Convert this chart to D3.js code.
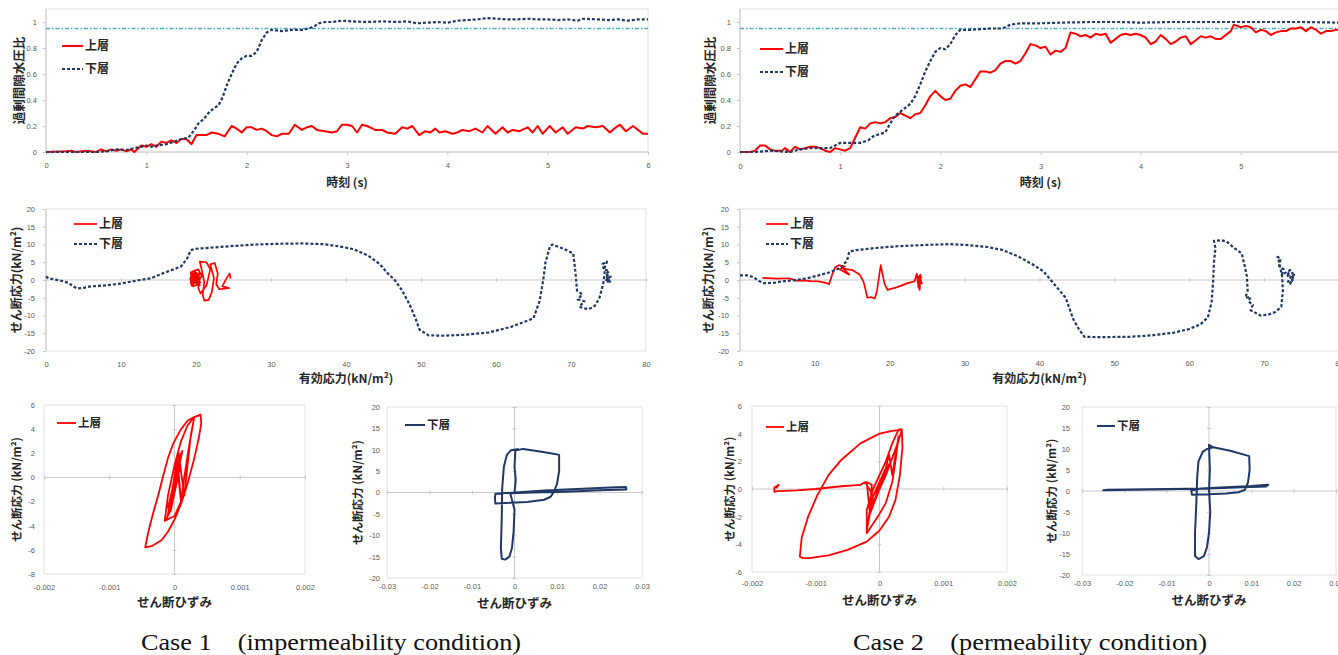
<!DOCTYPE html>
<html>
<head>
<meta charset="utf-8">
<script src="https://cdn.jsdelivr.net/npm/d3@7"></script>
<style>
  body { margin: 0; background: #fff; }
  svg text { font-family: "Liberation Sans", Arial, sans-serif; }
  .jp { font-family: "Noto Sans CJK JP", sans-serif; font-weight: bold; fill: #262626; }
  .lab text { fill: #595959; font-size: 7.5px; }
  .caption { font-family: "Liberation Serif", "Times New Roman", serif; font-size: 24px; fill: #111; }
</style>
</head>
<body>
<div id="chart"></div>
<script>
// ---- data ----
// excess pore water pressure ratio vs time (s)
var c1UpperRatio = [[0,0],[0.2,0.005],[0.25,0.01],[0.3,0],[0.4,0.01],[0.5,0],[0.55,0.02],[0.6,0.005],[0.65,0.02],[0.7,0.01],[0.75,0.02],[0.8,0.005],[0.85,0.02],[0.88,0],[0.95,0.05],[1.0,0.04],[1.05,0.06],[1.1,0.04],[1.15,0.08],[1.2,0.07],[1.25,0.09],[1.3,0.07],[1.35,0.1],[1.4,0.1],[1.45,0.06],[1.5,0.13],[1.55,0.13],[1.6,0.13],[1.65,0.15],[1.72,0.14],[1.78,0.12],[1.85,0.2],[1.9,0.18],[1.95,0.15],[2.0,0.19],[2.05,0.19],[2.1,0.17],[2.15,0.18],[2.2,0.16],[2.25,0.13],[2.3,0.12],[2.35,0.14],[2.42,0.14],[2.48,0.21],[2.55,0.17],[2.6,0.19],[2.65,0.2],[2.7,0.17],[2.78,0.16],[2.85,0.15],[2.9,0.16],[2.95,0.21],[3.0,0.21],[3.05,0.2],[3.1,0.15],[3.15,0.21],[3.2,0.2],[3.28,0.17],[3.35,0.17],[3.4,0.15],[3.48,0.14],[3.55,0.19],[3.6,0.18],[3.65,0.2],[3.72,0.13],[3.78,0.16],[3.83,0.15],[3.88,0.18],[3.92,0.15],[3.98,0.16],[4.05,0.14],[4.1,0.15],[4.15,0.17],[4.22,0.16],[4.28,0.18],[4.35,0.15],[4.4,0.2],[4.48,0.14],[4.55,0.19],[4.6,0.15],[4.65,0.17],[4.72,0.16],[4.8,0.19],[4.85,0.15],[4.9,0.2],[4.95,0.14],[5.02,0.2],[5.08,0.15],[5.15,0.19],[5.2,0.14],[5.28,0.19],[5.35,0.18],[5.4,0.2],[5.48,0.19],[5.55,0.2],[5.62,0.15],[5.68,0.19],[5.72,0.21],[5.78,0.16],[5.85,0.2],[5.9,0.17],[5.95,0.14],[6.0,0.14]];
var c1LowerRatio = [[0,0],[0.5,0],[0.6,0.005],[0.7,0.02],[0.8,0.015],[0.88,0.03],[0.95,0.04],[1.0,0.05],[1.05,0.04],[1.1,0.05],[1.2,0.06],[1.28,0.08],[1.35,0.1],[1.42,0.11],[1.47,0.16],[1.52,0.22],[1.58,0.26],[1.63,0.31],[1.68,0.34],[1.72,0.36],[1.76,0.42],[1.8,0.51],[1.85,0.6],[1.9,0.68],[1.95,0.72],[2.0,0.74],[2.05,0.74],[2.1,0.77],[2.15,0.86],[2.2,0.92],[2.25,0.94],[2.35,0.93],[2.45,0.94],[2.55,0.94],[2.62,0.95],[2.68,0.97],[2.72,0.99],[2.78,1.0],[2.85,1.0],[2.95,1.01],[3.05,1.005],[3.2,1.0],[3.35,1.005],[3.5,1.0],[3.6,1.005],[3.7,0.99],[3.8,0.995],[3.9,1.0],[4.0,0.995],[4.1,1.01],[4.2,1.015],[4.3,1.02],[4.4,1.03],[4.5,1.025],[4.6,1.02],[4.7,1.02],[4.8,1.025],[4.9,1.02],[5.0,1.02],[5.1,1.015],[5.2,1.02],[5.3,1.01],[5.35,1.025],[5.5,1.02],[5.6,1.015],[5.7,1.02],[5.8,1.01],[5.9,1.02],[6.0,1.02]];
var c2UpperRatio = [[0,0],[0.1,0],[0.15,0.01],[0.2,0.05],[0.25,0.05],[0.3,0.02],[0.35,0.01],[0.42,0.01],[0.45,0.03],[0.5,0.0],[0.55,0.04],[0.6,0.02],[0.65,0.03],[0.7,0.04],[0.75,0.04],[0.8,0.03],[0.85,0.01],[0.9,0.0],[0.95,0.03],[1.0,0.02],[1.05,0.01],[1.1,0.03],[1.15,0.11],[1.2,0.19],[1.25,0.18],[1.3,0.22],[1.35,0.23],[1.4,0.22],[1.45,0.23],[1.5,0.26],[1.55,0.27],[1.6,0.3],[1.65,0.28],[1.7,0.26],[1.75,0.29],[1.8,0.3],[1.85,0.36],[1.9,0.43],[1.95,0.47],[2.0,0.43],[2.05,0.4],[2.1,0.41],[2.15,0.47],[2.2,0.51],[2.25,0.52],[2.3,0.5],[2.35,0.56],[2.4,0.62],[2.45,0.62],[2.5,0.61],[2.55,0.63],[2.6,0.68],[2.65,0.7],[2.7,0.7],[2.75,0.68],[2.8,0.7],[2.85,0.76],[2.9,0.83],[2.95,0.82],[3.0,0.8],[3.05,0.81],[3.1,0.75],[3.15,0.78],[3.2,0.77],[3.25,0.8],[3.3,0.92],[3.35,0.91],[3.4,0.89],[3.45,0.9],[3.5,0.88],[3.55,0.91],[3.6,0.9],[3.65,0.91],[3.7,0.84],[3.75,0.87],[3.8,0.9],[3.85,0.91],[3.9,0.9],[3.95,0.91],[4.0,0.9],[4.05,0.88],[4.1,0.83],[4.15,0.85],[4.2,0.9],[4.25,0.87],[4.3,0.83],[4.35,0.85],[4.4,0.88],[4.45,0.89],[4.5,0.83],[4.55,0.86],[4.6,0.89],[4.65,0.88],[4.7,0.89],[4.75,0.87],[4.8,0.87],[4.85,0.9],[4.9,0.93],[4.93,0.98],[5.0,0.96],[5.05,0.97],[5.1,0.96],[5.15,0.92],[5.2,0.94],[5.25,0.93],[5.3,0.9],[5.35,0.92],[5.4,0.93],[5.45,0.93],[5.5,0.95],[5.55,0.95],[5.6,0.96],[5.65,0.93],[5.7,0.96],[5.75,0.94],[5.8,0.91],[5.85,0.93],[5.9,0.93],[5.95,0.94],[6.0,0.94]];
var c2LowerRatio = [[0,0],[0.15,0],[0.3,0.01],[0.5,0.0],[0.6,0.02],[0.7,0.03],[0.8,0.03],[0.9,0.03],[0.95,0.05],[1.0,0.07],[1.1,0.07],[1.2,0.07],[1.28,0.09],[1.33,0.12],[1.4,0.14],[1.45,0.15],[1.5,0.22],[1.55,0.28],[1.6,0.31],[1.65,0.34],[1.7,0.37],[1.75,0.43],[1.8,0.52],[1.85,0.62],[1.9,0.7],[1.95,0.77],[2.0,0.8],[2.05,0.79],[2.1,0.83],[2.15,0.9],[2.2,0.94],[2.3,0.94],[2.4,0.945],[2.5,0.95],[2.6,0.95],[2.65,0.96],[2.7,0.98],[2.8,0.99],[2.9,0.99],[3.0,0.99],[3.2,0.995],[3.5,1.0],[3.8,1.0],[4.0,0.995],[4.3,1.0],[4.6,1.0],[5.0,1.0],[5.3,1.0],[5.6,1.0],[6.0,0.995]];
var liquefactionRatio = 0.95;

// effective stress path: [effective stress, shear stress] (kN/m2)
var c1UpperPath = [[24.6,0.4],[24.5,1.8],[24.1,0.6],[23.5,-1.8],[24.4,-2.3],[23.1,-2.6],[22.7,-1.2],[22.9,1.8],[22.5,4.8],[21.9,4.4],[22.4,0.5],[22.1,-3.5],[21.7,-5.6],[21.1,-5.8],[20.9,-4.2],[21.1,-0.5],[20.7,3.5],[20.5,5.2],[21.4,5],[21.9,3],[21.4,-1.5],[20.6,-3.8],[20.3,-2.2],[20.5,0.3],[19.7,1.5],[19.4,-0.8],[19.5,2.4],[20.3,3],[20.8,1],[19.3,-0.4],[19.4,1.2],[20.2,-1.3],[19.6,-1.8],[19.4,0.2],[20.5,1.6],[19.2,0.4],[20.1,2.1],[19.7,-1],[19.3,1.8],[20.6,-0.7],[19.5,0.8],[20.3,0],[19.4,-1.2],[20.4,1.2],[19.6,0.2],[19.3,2.2],[20.5,-1.5],[19.8,2.5],[19.4,-1.6],[20.6,0.6],[19.3,1],[20.2,-0.5],[19.5,1.9],[20.4,-1],[19.6,-0.3],[19.9,2.3],[19.3,-0.9],[20.5,2],[19.7,0.6],[20.1,1.5],[19.4,0.5]];
var c1LowerPath = [[0,1],[0.3,0.5],[1,0.2],[2,-0.2],[3,-0.8],[3.8,-2],[4.2,-2.4],[5,-2.2],[6,-1.8],[8,-1.5],[10,-1],[12,-0.2],[14,0.5],[15.5,1.8],[17,3],[18,3.8],[18.8,6],[19.3,8.4],[20,8.8],[22,9.1],[25,9.6],[28,10],[31,10.2],[34,10.3],[37,10.1],[39,9.5],[41,8.7],[43,6.8],[44.5,4.5],[45.5,2],[46.5,0],[47.5,-3],[48.5,-7],[49.3,-11],[49.8,-14],[51,-15.6],[53,-15.7],[56,-15.4],[59,-14.8],[62,-13.2],[65,-10.8],[65.8,-6],[66.3,0],[66.6,5],[67.2,9.5],[67.5,10],[69,8.8],[70.3,7.5],[70.6,2],[70.8,-3],[71.5,-4],[70.9,-5.5],[71.8,-6],[71.1,-7.5],[71.8,-8],[72.3,-8.2],[72.8,-7.8],[73.2,-7.2],[73.8,-5],[74.3,-1],[74.5,2],[74.2,4.5],[74.8,5.2],[74.4,3],[75.1,2.5],[74.6,1.5],[75.3,1],[74.7,0],[75.2,-0.5],[74.8,0.8],[75,-0.8]];
var c2UpperPath = [[3,0.6],[5,0.4],[6.5,0.5],[7,0.2],[7.5,-0.2],[8.5,-0.1],[9.5,-0.3],[10.5,-0.4],[11.5,-0.8],[11.9,-1.2],[12.3,1.5],[12.7,3.5],[13.2,4.2],[14,3.8],[13.3,3],[14.6,1.5],[13.8,3.2],[15,2.8],[16,1.5],[16.5,-0.5],[16.8,-3],[17,-5],[17.5,-4.8],[18,-5.2],[18.3,-3],[18.5,0],[18.8,4.2],[19,2],[19.3,-1],[19.7,-2.8],[21,-2],[22.5,-0.8],[23.3,-0.4],[23.6,1.8],[23.8,-1.5],[24,-2.8],[24.1,1.5],[23.7,0.5],[24.3,-1],[23.9,1],[24.2,-0.3],[23.8,-2],[24.2,0.8],[23.9,-0.8]];
var c2LowerPath = [[0,1.3],[1,1.3],[1.8,0.8],[2.5,-0.3],[3.2,-0.9],[4.5,-0.8],[6,-0.3],[7.5,0],[9,0.5],[10.5,1.3],[12,2.2],[13.5,3.5],[14.3,5.5],[14.6,8],[15.5,8.4],[18,9],[21,9.5],[25,9.9],[28,10.1],[30,9.9],[33,9.3],[35,8.5],[37,6.8],[39,4.5],[40.5,2.5],[41.5,0],[42.5,-2.5],[43.5,-5],[44,-8],[44.5,-11],[45.3,-14],[46,-16],[48,-16.1],[52,-16],[55,-15.6],[58,-14.8],[60,-13.8],[61.5,-12.5],[62.5,-10.5],[63,-6],[63.2,0],[63.3,5],[63.5,9],[63.3,11],[64.3,11.2],[65,10.8],[66,9],[67,7.5],[67.4,4],[67.7,1],[67.8,-3],[67.5,-5],[68.2,-4.8],[67.9,-6],[68.5,-7],[68.2,-8.5],[68.8,-9.2],[69.5,-10],[70.5,-9.8],[71.5,-9],[72.3,-7.5],[72.5,-3],[72.4,1],[72,5],[71.8,6.5],[72.2,6],[72,4],[72.6,3],[72.4,1.5],[73.5,2.8],[73,1],[73.8,2],[73.2,-0.5],[73.8,0],[73.5,-1],[74,1.5],[73.6,0.5]];

// stress-strain loops: [shear strain, shear stress]
var c1UpperLoop = [[0,0],[0.00005,1],[-0.00005,-1.5],[0.0001,2],[-0.0001,-2.5],[0.00008,1.5],[-0.00008,-3],[0.00012,2.2],[-0.00012,-3.5],[0.00005,0.5],[0.0001,-2],[0.00004,1.8],[-0.00006,-2.8],[0.00009,1],[-0.0001,-3.2],[0.00006,2.1],[0.00015,-1.5],[0.0002,1],[0.00025,3.5],[0.0003,4.9],[0.00022,2.5],[0.00015,0],[0.0001,-2],[0,-3.2],[-0.00015,-3.6],[-0.0001,-1.5],[0,1],[0.0001,3],[0.0002,4.3],[0.0003,5],[0.0004,5.2],[0.00041,4.5],[0.00037,3.2],[0.0003,1.5],[0.0002,-0.5],[0.0001,-2.2],[0,-3.5],[-0.0001,-4.5],[-0.0002,-5.2],[-0.00035,-5.7],[-0.00045,-5.8],[-0.0004,-4.5],[-0.00033,-3],[-0.00025,-1.5],[-0.00018,0],[-0.0001,1.6],[-0.00002,2.8],[0.0001,4],[0.0002,4.7],[0.0003,5],[0.00036,5.1],[0.0004,5.2]];
var c1LowerLoop = [[0,0],[0.0003,3],[0,6],[0.0002,9.8],[0.002,10.2],[0.006,9.6],[0.0095,9],[0.0105,8.8],[0.0105,5],[0.01,2],[0.0092,0],[0.0085,-1],[0.007,-1.7],[0.003,-2.2],[-0.001,-2.4],[-0.0045,-2.6],[-0.0046,-1.2],[-0.0045,-0.3],[0,0],[0.008,0.5],[0.016,0.9],[0.024,1.2],[0.0262,1.3],[0.0263,0.7],[0.02,0.5],[0.012,0.2],[0.004,0],[-0.001,-0.2],[0,-4],[-0.0002,-9],[-0.0006,-13],[-0.0012,-15],[-0.0022,-15.7],[-0.003,-15.5],[-0.0032,-13],[-0.003,-6],[-0.0029,1],[-0.0025,6],[-0.0018,8.8],[-0.0008,9.9],[0.001,10.2]];
var c2UpperLoop = [[0,0],[0.0001,1],[-0.0001,-1],[0.00015,1.8],[-0.00015,-1.8],[-0.0002,0.5],[-0.00012,0.3],[-0.00015,-1.5],[-0.0002,-3],[-0.0001,-0.5],[0,0.5],[0.0001,1.5],[0.00015,2.5],[0.0002,1],[0.00025,2.5],[0.0003,3.8],[0.00025,2],[0.0002,0.5],[0.0001,-1],[0,-1.8],[-0.0002,-3.2],[-0.0002,-1.5],[-0.0001,0],[0.0001,2],[0.0002,3.3],[0.0003,4.3],[0.00035,4.3],[0.00036,3],[0.00032,1],[0.00025,-0.8],[0.00015,-2],[0,-3],[-0.0002,-3.8],[-0.0005,-4.4],[-0.0008,-4.8],[-0.0011,-5],[-0.0012,-5],[-0.00125,-4.9],[-0.00122,-3.5],[-0.00112,-2],[-0.00098,-0.5],[-0.0008,1],[-0.0006,2.1],[-0.0003,3.3],[0,4],[0.0002,4.2],[0.00035,4.3],[0.0003,3.5],[0.0001,1],[-0.0001,-0.5],[-0.0002,0.3],[-0.00022,0.5],[-0.0003,0.3],[-0.0006,0.2],[-0.001,0],[-0.0013,-0.1],[-0.0016,-0.15],[-0.00165,-0.2],[-0.00165,0.1],[-0.00158,0.3],[-0.00162,0.05]];
var c2LowerLoop = [[0,0],[0.0002,5],[0,11],[0.001,10.4],[0.005,9.6],[0.0095,8.3],[0.0096,5],[0.0092,2],[0.0085,0.3],[0.007,-0.3],[0.004,-0.6],[0,-0.8],[-0.004,-0.9],[-0.0042,0.1],[-0.002,0.6],[0.004,0.9],[0.01,1.2],[0.014,1.5],[0.0135,1.1],[0.008,0.9],[0,0.6],[-0.01,0.4],[-0.025,0.2],[-0.024,0.3],[-0.01,0.5],[0,0.6],[0.0003,-5],[0,-10],[-0.0005,-13.5],[-0.0012,-15.5],[-0.0025,-16.2],[-0.0033,-15.5],[-0.0033,-10],[-0.003,-3],[-0.0028,3],[-0.0025,7],[-0.0015,9.3],[-0.0005,10],[0.001,10.4]];

// tick values
var timeTicks = [0, 1, 2, 3, 4, 5, 6];
var ratioTicks = [0, 0.2, 0.4, 0.6, 0.8, 1];
var effStressTicks = [0, 10, 20, 30, 40, 50, 60, 70, 80];
var shearStressTicks = [-20, -15, -10, -5, 0, 5, 10, 15, 20];
var smallStrainTicks = [-0.002, -0.001, 0, 0.001, 0.002];
var largeStrainTicks = [-0.03, -0.02, -0.01, 0, 0.01, 0.02, 0.03];
var upperStressTicksC1 = [-8, -6, -4, -2, 0, 2, 4, 6];
var upperStressTicksC2 = [-6, -4, -2, 0, 2, 4, 6];

var upperName = "上層", lowerName = "下層";
var captions = ["Case 1　(impermeability condition)", "Case 2　(permeability condition)"];

// ---- styles ----
var red = "#ff0000", navy = "#1f3864", cyan = "#4bacc6";
var dashed = "3,2";

var svg = d3.select("#chart").append("svg")
  .attr("width", 1338)
  .attr("height", 655);

var line = d3.line();

function drawPanel(p) {
  var x = d3.scaleLinear().domain(p.xDomain).range([p.left, p.right]);
  var y = d3.scaleLinear().domain(p.yDomain).range([p.bottom, p.top]);
  var g = svg.append("g");

  // plot area border
  g.append("rect")
    .attr("x", p.left).attr("y", p.top)
    .attr("width", p.right - p.left).attr("height", p.bottom - p.top)
    .attr("fill", "none").attr("stroke", "#e2e2e2");

  var yCross = p.xAxisAtZero ? y(0) : p.bottom;
  var xCross = x(0);

  // horizontal axis line + ticks
  g.append("line").attr("x1", p.left).attr("x2", p.right)
    .attr("y1", yCross).attr("y2", yCross).attr("stroke", "#c8c8c8");
  var xt = g.append("g")
    .attr("transform", `translate(0, ${p.xAxisAtZero ? yCross - 2 : yCross})`)
    .call(d3.axisBottom(x).tickValues(p.xTicks).tickSize(p.xAxisAtZero ? 4 : 3).tickFormat(""));
  xt.select(".domain").remove();
  xt.selectAll("line").attr("stroke", "#c8c8c8");

  // vertical axis line + ticks
  g.append("line").attr("x1", xCross).attr("x2", xCross)
    .attr("y1", p.top).attr("y2", p.bottom).attr("stroke", "#c8c8c8");
  var yt = g.append("g")
    .attr("transform", `translate(${p.yAxisCross ? xCross + 2 : xCross}, 0)`)
    .call(d3.axisLeft(y).tickValues(p.yTicks).tickSize(p.yAxisCross ? 4 : 3).tickFormat(""));
  yt.select(".domain").remove();
  yt.selectAll("line").attr("stroke", "#c8c8c8");

  // tick labels at the low edges
  var xl = g.append("g").attr("class", "lab")
    .attr("transform", `translate(0, ${p.xLabelY})`)
    .call(d3.axisBottom(x).tickValues(p.xTicks).tickSize(0).tickPadding(0).tickFormat(d => String(d)));
  xl.select(".domain").remove();
  xl.selectAll("text").attr("y", 0).attr("dy", "0.35em");

  var yl = g.append("g").attr("class", "lab")
    .attr("transform", `translate(${p.left - p.yLabelGap}, 0)`)
    .call(d3.axisLeft(y).tickValues(p.yTicks).tickSize(0).tickPadding(0).tickFormat(d => String(d)));
  yl.select(".domain").remove();

  // reference line
  if (p.refLine !== undefined) {
    g.append("line")
      .attr("x1", p.left).attr("x2", p.right)
      .attr("y1", y(p.refLine)).attr("y2", y(p.refLine))
      .attr("stroke", cyan).attr("stroke-width", 1.3)
      .attr("stroke-dasharray", "4,2,1.5,2");
  }

  // series
  p.series.forEach(function(s) {
    g.append("path")
      .datum(s.data)
      .attr("d", line.x(d => x(d[0])).y(d => y(d[1])))
      .attr("fill", "none")
      .attr("stroke", s.color)
      .attr("stroke-width", s.width)
      .attr("stroke-linejoin", "round")
      .attr("stroke-dasharray", s.dash || null);
  });

  // legend
  p.series.forEach(function(s, i) {
    var ly = p.legend.y + i * p.legend.step;
    g.append("line")
      .attr("x1", p.legend.x).attr("x2", p.legend.x + p.legend.len)
      .attr("y1", ly).attr("y2", ly)
      .attr("stroke", s.color).attr("stroke-width", s.width)
      .attr("stroke-dasharray", s.dash || null);
    g.append("text").attr("class", "jp")
      .attr("x", p.legend.x + p.legend.len + 2).attr("y", ly)
      .attr("dy", "0.36em")
      .style("font-size", p.legend.size + "px")
      .text(s.label);
  });

  // axis titles
  g.append("text").attr("class", "jp")
    .attr("x", (p.left + p.right) / 2).attr("y", p.xTitleY)
    .attr("text-anchor", "middle")
    .style("font-size", p.xTitleSize + "px")
    .text(p.xTitle);
  g.append("text").attr("class", "jp")
    .attr("transform", `translate(${p.yTitleX}, ${(p.top + p.bottom) / 2}) rotate(-90)`)
    .attr("text-anchor", "middle")
    .attr("dy", "0.36em")
    .style("font-size", p.yTitleSize + "px")
    .text(p.yTitle);
}

var ratioTitle = "過剰間隙水圧比";
var timeTitle = "時刻 (s)";
var pathYTitle = "せん断応力(kN/m²)";
var pathXTitle = "有効応力(kN/m²)";
var loopYTitle = "せん断応力 (kN/m²)";
var loopXTitle = "せん断ひずみ";

var panels = [
  { // case 1 pore pressure ratio
    left: 46, right: 648, top: 9, bottom: 152,
    xDomain: [0, 6], yDomain: [0, 1.1], xTicks: timeTicks, yTicks: ratioTicks,
    xLabelY: 165, yLabelGap: 9, xTitle: timeTitle, xTitleY: 187, xTitleSize: 12,
    yTitle: ratioTitle, yTitleX: 19, yTitleSize: 12.5, refLine: liquefactionRatio,
    series: [
      { data: c1UpperRatio, color: red, width: 2, label: upperName },
      { data: c1LowerRatio, color: navy, width: 2.2, dash: dashed, label: lowerName }
    ],
    legend: { x: 62, y: 46, step: 23, len: 21, size: 12 }
  },
  { // case 2 pore pressure ratio
    left: 740, right: 1341, top: 9, bottom: 152,
    xDomain: [0, 6], yDomain: [0, 1.1], xTicks: timeTicks, yTicks: ratioTicks,
    xLabelY: 166, yLabelGap: 9, xTitle: timeTitle, xTitleY: 187, xTitleSize: 12,
    yTitle: ratioTitle, yTitleX: 710, yTitleSize: 12.5, refLine: liquefactionRatio,
    series: [
      { data: c2UpperRatio, color: red, width: 2, label: upperName },
      { data: c2LowerRatio, color: navy, width: 2.2, dash: dashed, label: lowerName }
    ],
    legend: { x: 760, y: 49, step: 23, len: 23, size: 12 }
  },
  { // case 1 stress path
    left: 46, right: 646, top: 209, bottom: 351,
    xDomain: [0, 80], yDomain: [-20, 20], xTicks: effStressTicks, yTicks: shearStressTicks,
    xAxisAtZero: true,
    xLabelY: 364, yLabelGap: 11, xTitle: pathXTitle, xTitleY: 383, xTitleSize: 12,
    yTitle: pathYTitle, yTitleX: 17, yTitleSize: 12,
    series: [
      { data: c1UpperPath, color: red, width: 1.7, label: upperName },
      { data: c1LowerPath, color: navy, width: 2.2, dash: dashed, label: lowerName }
    ],
    legend: { x: 74, y: 224, step: 20, len: 23, size: 12 }
  },
  { // case 2 stress path
    left: 740, right: 1339, top: 209, bottom: 351,
    xDomain: [0, 80], yDomain: [-20, 20], xTicks: effStressTicks, yTicks: shearStressTicks,
    xAxisAtZero: true,
    xLabelY: 363, yLabelGap: 11, xTitle: pathXTitle, xTitleY: 383, xTitleSize: 12,
    yTitle: pathYTitle, yTitleX: 709, yTitleSize: 12,
    series: [
      { data: c2UpperPath, color: red, width: 1.7, label: upperName },
      { data: c2LowerPath, color: navy, width: 2.2, dash: dashed, label: lowerName }
    ],
    legend: { x: 766, y: 224, step: 20, len: 22, size: 12 }
  },
  { // case 1 upper layer loop
    left: 44, right: 305, top: 405, bottom: 574,
    xDomain: [-0.002, 0.002], yDomain: [-8, 6], xTicks: smallStrainTicks, yTicks: upperStressTicksC1,
    xAxisAtZero: true, yAxisCross: true,
    xLabelY: 587, yLabelGap: 9, xTitle: loopXTitle, xTitleY: 607, xTitleSize: 12.5,
    yTitle: loopYTitle, yTitleX: 17, yTitleSize: 11.5,
    series: [ { data: c1UpperLoop, color: red, width: 1.8, label: upperName } ],
    legend: { x: 57, y: 423, step: 0, len: 19, size: 11.5 }
  },
  { // case 1 lower layer loop
    left: 387, right: 642, top: 407, bottom: 578,
    xDomain: [-0.03, 0.03], yDomain: [-20, 20], xTicks: largeStrainTicks, yTicks: shearStressTicks,
    xAxisAtZero: true, yAxisCross: true,
    xLabelY: 586, yLabelGap: 7, xTitle: loopXTitle, xTitleY: 608, xTitleSize: 12.5,
    yTitle: loopYTitle, yTitleX: 358, yTitleSize: 11.5,
    series: [ { data: c1LowerLoop, color: navy, width: 2, label: lowerName } ],
    legend: { x: 405, y: 425, step: 0, len: 20, size: 11.5 }
  },
  { // case 2 upper layer loop
    left: 752, right: 1007, top: 406, bottom: 572,
    xDomain: [-0.002, 0.002], yDomain: [-6, 6], xTicks: smallStrainTicks, yTicks: upperStressTicksC2,
    xAxisAtZero: true, yAxisCross: true,
    xLabelY: 583, yLabelGap: 10, xTitle: loopXTitle, xTitleY: 605, xTitleSize: 12.5,
    yTitle: loopYTitle, yTitleX: 730, yTitleSize: 11.5,
    series: [ { data: c2UpperLoop, color: red, width: 1.8, label: upperName } ],
    legend: { x: 766, y: 427, step: 0, len: 18, size: 11.5 }
  },
  { // case 2 lower layer loop
    left: 1082, right: 1336, top: 407, bottom: 575,
    xDomain: [-0.03, 0.03], yDomain: [-20, 20], xTicks: largeStrainTicks, yTicks: shearStressTicks,
    xAxisAtZero: true, yAxisCross: true,
    xLabelY: 583, yLabelGap: 12, xTitle: loopXTitle, xTitleY: 605, xTitleSize: 12.5,
    yTitle: loopYTitle, yTitleX: 1052, yTitleSize: 11.5,
    series: [ { data: c2LowerLoop, color: navy, width: 2, label: lowerName } ],
    legend: { x: 1097, y: 426, step: 0, len: 18, size: 11.5 }
  }
];

panels.forEach(drawPanel);

// captions under each case
var captionPos = [[141, 380], [853, 354]];
captions.forEach(function(c, i) {
  svg.append("text").attr("class", "caption")
    .attr("x", captionPos[i][0]).attr("y", 650)
    .attr("textLength", captionPos[i][1])
    .attr("lengthAdjust", "spacingAndGlyphs")
    .text(c);
});
</script>
</body>
</html>
